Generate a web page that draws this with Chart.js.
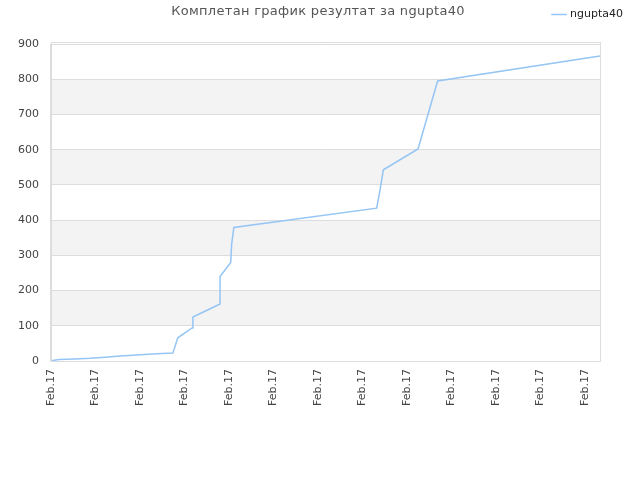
<!DOCTYPE html>
<html><head><meta charset="utf-8">
<script src="https://cdn.jsdelivr.net/npm/chart.js@4/dist/chart.umd.min.js"></script>
<style>html,body{margin:0;padding:0;background:#fff}#wrap{width:640px;height:480px}</style>
</head><body><div id="wrap"><canvas id="c" width="640" height="480"></canvas></div>
<script>
const titleText = 'Комплетан график резултат за ngupta40';
const seriesName = 'ngupta40';
const xTickLabel = 'Feb.17';
const xs = [0, 0.18, 0.54, 0.88, 1.21, 1.55, 1.93, 2.27, 2.61, 2.74, 2.85, 3.17, 3.19, 3.80, 3.80, 4.04, 4.06, 4.11, 7.32, 7.39, 7.47, 8.25, 8.69, 12.34];
const ys = [1, 4, 6, 8, 11, 14, 17, 20, 22, 23, 66, 94, 125, 162, 240, 280, 331, 379, 434, 481, 543, 602, 795, 866];
const yTicks = [0, 100, 200, 300, 400, 500, 600, 700, 800, 900];

const bandsPlugin = {
  id: 'bands',
  beforeInit(chart) {
    const lg = chart.legend;
    if (lg) {
      const orig = lg.fit;
      lg.fit = function () { orig.call(this); this.height += 14; };
    }
  },
  beforeDraw(chart) {
    const {ctx, chartArea: a, scales: {y}} = chart;
    ctx.save();
    ctx.fillStyle = '#f3f3f3';
    for (let i = 1; i < yTicks.length; i += 2) {
      const top = y.getPixelForValue(yTicks[i + 1] !== undefined ? yTicks[i + 1] : yTicks[i]);
      const bot = y.getPixelForValue(yTicks[i]);
      ctx.fillRect(a.left, top, a.right - a.left, bot - top);
    }
    ctx.restore();
  },
  afterDraw(chart) {
    const {ctx, chartArea: a} = chart;
    ctx.save();
    ctx.strokeStyle = '#dddddd';
    ctx.lineWidth = 1;
    ctx.strokeRect(Math.round(a.left) + 0.5, Math.round(a.top) - 1.5, Math.round(a.right - a.left), Math.round(a.bottom - a.top) + 2);
    ctx.font = '13px "DejaVu Sans"';
    try { ctx.letterSpacing = '0.3px'; } catch (e) {}
    ctx.fillStyle = '#555555';
    ctx.textAlign = 'center';
    ctx.textBaseline = 'middle';
    ctx.fillText(titleText, 318, 12);
    ctx.restore();
  }
};

new Chart(document.getElementById('c'), {
  type: 'line',
  data: {
    datasets: [{
      label: seriesName,
      data: xs.map((x, i) => ({x: x, y: ys[i]})),
      borderColor: '#94c5f4',
      backgroundColor: '#94c5f4',
      borderWidth: 1.5,
      pointRadius: 0,
      tension: 0,
      fill: false
    }]
  },
  options: {
    responsive: false,
    animation: false,
    devicePixelRatio: 1,
    layout: {padding: {top: 0, right: 8, bottom: 66, left: 6}},
    plugins: {
      title: {display: false},
      tooltip: {enabled: false},
      legend: {
        display: true,
        position: 'top',
        align: 'end',
        labels: {
          usePointStyle: true,
          pointStyle: 'line',
          boxWidth: 12,
          color: '#222',
          font: {family: 'DejaVu Sans', size: 11},
          padding: 9
        }
      }
    },
    scales: {
      x: {
        type: 'linear',
        min: 0,
        max: 12.34,
        grid: {display: false, drawTicks: false},
        border: {display: true, color: '#dddddd'},
        afterBuildTicks: (s) => { s.ticks = s.ticks.filter(t => Number.isInteger(t.value)); },
        ticks: {
          stepSize: 1,
          autoSkip: false,
          maxRotation: 90,
          minRotation: 90,
          padding: 8,
          color: '#444',
          font: {family: 'DejaVu Sans', size: 11},
          callback: () => xTickLabel
        }
      },
      y: {
        min: 0,
        max: 900,
        grid: {color: '#dddddd', drawTicks: false},
        border: {display: true, color: '#dddddd'},
        ticks: {
          stepSize: 100,
          padding: 12,
          color: '#444',
          font: {family: 'DejaVu Sans', size: 11}
        }
      },
      yRight: {
        position: 'right',
        display: true,
        grid: {display: false, drawTicks: false},
        border: {display: false},
        ticks: {display: false},
        afterFit: (s) => { s.width = 32; }
      }
    }
  },
  plugins: [bandsPlugin]
});
</script>
</body></html>
